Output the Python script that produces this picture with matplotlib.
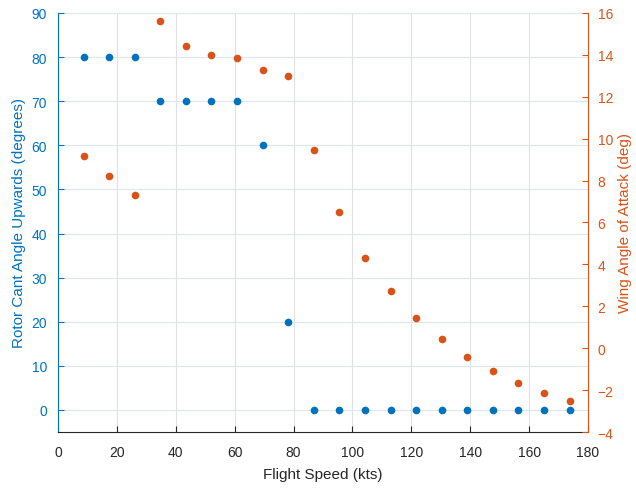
import numpy as np
import matplotlib.pyplot as plt

plt.rcParams['font.family'] = ['Liberation Sans', 'DejaVu Sans']

# flight speed in knots (10 mph steps)
speed = [8.7, 17.4, 26.1, 34.8, 43.4, 52.1, 60.8, 69.5, 78.2, 86.9,
         95.6, 104.3, 113.0, 121.7, 130.3, 139.0, 147.7, 156.4, 165.1, 173.8]
cant = [80, 80, 80, 70, 70, 70, 70, 60, 20, 0,
        0, 0, 0, 0, 0, 0, 0, 0, 0, 0]
aoa = [9.16, 8.24, 7.32, 15.62, 14.40, 13.99, 13.84, 13.30, 13.0, 9.45,
       6.49, 4.31, 2.74, 1.46, 0.43, -0.41, -1.11, -1.66, -2.13, -2.53]

blue = '#0072BD'
orange = '#D95319'
dark = '#262626'

fig = plt.figure(figsize=(6.36, 4.89), dpi=100)
ax = fig.add_axes([0.0912, 0.1145, 0.8333, 0.857])
ax.plot(speed, cant, 'o', color=blue, markersize=5.5, markeredgewidth=0)
ax.set_xlim(0, 180)
ax.set_ylim(-5, 90)
ax.set_xticks(np.arange(0, 181, 20))
ax.set_yticks(np.arange(0, 91, 10))
ax.set_xlabel('Flight Speed (kts)', fontsize=11, color=dark, labelpad=6)
ax.set_ylabel('Rotor Cant Angle Upwards (degrees)', fontsize=11, color=blue, labelpad=4)
ax.tick_params(axis='x', direction='in', colors=dark, labelsize=10, length=4, pad=9)
ax.tick_params(axis='y', direction='in', colors=blue, labelsize=10, length=4, pad=8)
ax.xaxis.grid(True, color='#dfe2e5', linewidth=0.8)
ax.yaxis.grid(True, color='#dbe8f3', linewidth=0.8)
ax.set_axisbelow(True)
ax.spines['top'].set_visible(False)
ax.spines['right'].set_visible(False)
ax.spines['left'].set_color(blue)
ax.spines['bottom'].set_color(dark)

ax2 = ax.twinx()
ax2.plot(speed, aoa, 'o', color=orange, markersize=5.5, markeredgewidth=0)
ax2.set_ylim(-4, 16)
ax2.set_yticks(np.arange(-4, 17, 2))
ax2.set_ylabel('Wing Angle of Attack (deg)', fontsize=11, color=orange, labelpad=3)
ax2.tick_params(axis='y', direction='in', colors=orange, labelsize=10, length=4, pad=7)
ax2.spines['top'].set_visible(False)
ax2.spines['left'].set_visible(False)
ax2.spines['bottom'].set_visible(False)
ax2.spines['right'].set_color(orange)

fig.savefig('out.png', dpi=100)
